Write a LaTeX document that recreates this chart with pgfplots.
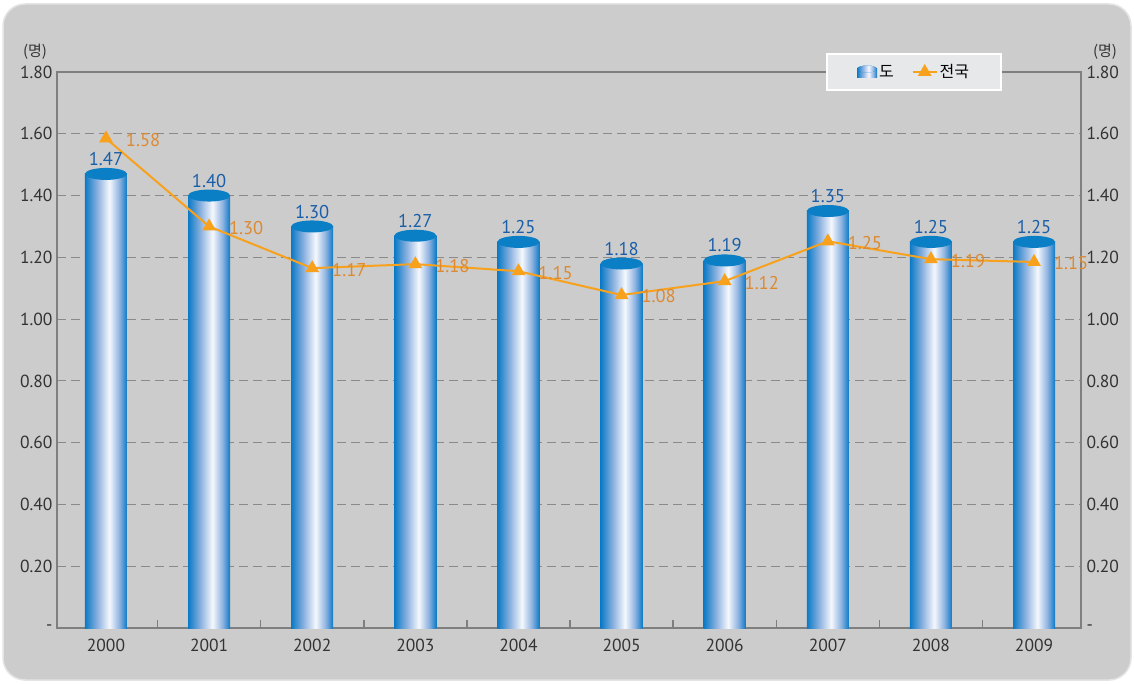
\documentclass[border=0pt]{standalone}
\usepackage{pgfplots}
\pgfplotsset{compat=1.18}
\usepackage{fontspec}
\setmainfont{PT Sans}
\newfontfamily\kr{Noto Sans CJK KR}
\definecolor{bg}{HTML}{CCCCCC}
\definecolor{bgedge}{HTML}{E4E4E4}
\definecolor{axisgray}{HTML}{7F7F7F}
\definecolor{gridgray}{HTML}{8A8A8A}
\definecolor{ticktext}{HTML}{333333}
\definecolor{cylA}{HTML}{0B7AC6}
\definecolor{cylB}{HTML}{8DB2E0}
\definecolor{cylW}{HTML}{F5F8FD}
\definecolor{topblue}{HTML}{0A7FC6}
\definecolor{barlabel}{HTML}{1A5EA8}
\definecolor{lineorange}{HTML}{F7A11C}
\definecolor{linelabel}{HTML}{DB8A33}
\definecolor{legbg}{HTML}{E6E8EA}
\pgfdeclarehorizontalshading{cyl}{100bp}{color(0bp)=(cylA); color(25bp)=(cylA); color(40bp)=(cylB); color(54bp)=(cylW); color(66bp)=(cylB); color(75bp)=(cylA); color(100bp)=(cylA)}
\pgfdeclareplotmark{cyltop}{\pgfpathellipse{\pgfpointorigin}{\pgfqpoint{21pt}{0pt}}{\pgfqpoint{0pt}{6pt}}\pgfusepathqfill}
\pgfplotsset{
  natlegend/.style={legend image code/.code={\draw[mark repeat=2,mark phase=2,##1] plot coordinates {(0pt,0pt) (12pt,0pt) (24pt,0pt)};}},
  cyllegend/.style={legend image code/.code={\shade[shading=cyl] (0pt,-6pt) rectangle (20pt,3pt);
    \fill[topblue] (10pt,3pt) ellipse (10pt and 3.5pt);}},
  cylbar/.style={ybar, bar width=42pt, bar shift=0pt, draw=none, shade, shading=cyl},
}
\pgfplotstableread{
x y l
0 1.47 1.47
1 1.40 1.40
2 1.30 1.30
3 1.27 1.27
4 1.25 1.25
5 1.18 1.18
6 1.19 1.19
7 1.35 1.35
8 1.25 1.25
9 1.25 1.25
}\dotable
\pgfplotstableread{
x y l
0 1.585 1.58
1 1.30 1.30
2 1.165 1.17
3 1.178 1.18
4 1.155 1.15
5 1.078 1.08
6 1.123 1.12
7 1.252 1.25
8 1.194 1.19
9 1.185 1.15
}\nattable
\begin{document}
\begin{tikzpicture}[x=1pt,y=1pt]
\fill[white] (0,0) rectangle (1134,683);
\filldraw[fill=bg, draw=bgedge, line width=1.5pt, rounded corners=22pt] (3,3) rectangle (1131,679);
\begin{axis}[at={(57pt,55pt)}, anchor=south west, scale only axis, width=1024pt, height=556pt,
  xmin=-0.475, xmax=9.455, ymin=0, ymax=1.8, clip=false,
  xtick={0,1,2,3,4,5,6,7,8,9},
  xticklabels={2000,2001,2002,2003,2004,2005,2006,2007,2008,2009},
  minor xtick={0.5,1.5,2.5,3.5,4.5,5.5,6.5,7.5,8.5},
  xtick pos=bottom, ytick pos=left,
  major tick length=0pt, minor tick length=8pt,
  minor tick style={axisgray, line width=1.5pt},
  ytick={0,0.2,0.4,0.6,0.8,1.0,1.2,1.4,1.6,1.8},
  yticklabels={-,0.20,0.40,0.60,0.80,1.00,1.20,1.40,1.60,1.80},
  ymajorgrids, major grid style={gridgray, line width=1pt, dash pattern=on 9pt off 5pt},
  axis line style={axisgray, line width=2.5pt},
  tick label style={font=\fontsize{17.5}{20}\selectfont, text=ticktext},
  xticklabel style={yshift=-8pt},
  yticklabel style={xshift=-1pt},
  legend style={at={(0.837,1.0)}, anchor=center, fill=legbg, draw=white, line width=2pt,
    font=\kr\fontsize{16}{19}\selectfont, legend columns=2,
    /tikz/every even column/.append style={column sep=16pt},
    inner xsep=30pt, inner ysep=9pt},
]
\addplot[cylbar, cyllegend] coordinates {(0,1.47)};
\addlegendentry{도}
\addplot[cylbar, forget plot] coordinates {(1,1.40)};
\addplot[cylbar, forget plot] coordinates {(2,1.30)};
\addplot[cylbar, forget plot] coordinates {(3,1.27)};
\addplot[cylbar, forget plot] coordinates {(4,1.25)};
\addplot[cylbar, forget plot] coordinates {(5,1.18)};
\addplot[cylbar, forget plot] coordinates {(6,1.19)};
\addplot[cylbar, forget plot] coordinates {(7,1.35)};
\addplot[cylbar, forget plot] coordinates {(8,1.25)};
\addplot[cylbar, forget plot] coordinates {(9,1.25)};
\addplot[only marks, mark=cyltop, mark options={fill=topblue}, forget plot,
  nodes near coords, point meta=explicit symbolic,
  every node near coord/.append style={anchor=south, yshift=8pt, inner sep=0pt,
    font=\fontsize{18.5}{21}\selectfont, text=barlabel}]
  table[x=x,y=y,meta=l] {\dotable};
\addplot[lineorange, line width=2pt, mark=triangle*, mark size=6pt,
  mark options={fill=lineorange, draw=lineorange, solid},
  nodes near coords, point meta=explicit symbolic,
  every node near coord/.append style={anchor=west, xshift=19pt, yshift=-1.5pt, inner sep=0pt,
    font=\fontsize{18.5}{21}\selectfont, text=linelabel},
  natlegend]
  table[x=x,y=y,meta=l] {\nattable};
\addlegendentry{전국}
\node[font=\kr\fontsize{15}{18}\selectfont, text=ticktext] at (rel axis cs:0,1) [xshift=-22pt, yshift=20pt] {(명)};
\node[font=\kr\fontsize{15}{18}\selectfont, text=ticktext] at (rel axis cs:1,1) [xshift=24pt, yshift=20pt] {(명)};
\end{axis}
\begin{axis}[at={(57pt,55pt)}, anchor=south west, scale only axis, width=1024pt, height=556pt,
  xmin=-0.475, xmax=9.455, ymin=0, ymax=1.8,
  xtick=\empty, axis line style={draw=none}, major tick length=0pt,
  yticklabel pos=right,
  ytick={0,0.2,0.4,0.6,0.8,1.0,1.2,1.4,1.6,1.8},
  yticklabels={-,0.20,0.40,0.60,0.80,1.00,1.20,1.40,1.60,1.80},
  tick label style={font=\fontsize{17.5}{20}\selectfont, text=ticktext},
  yticklabel style={xshift=2pt},
]
\end{axis}
\end{tikzpicture}
\end{document}
